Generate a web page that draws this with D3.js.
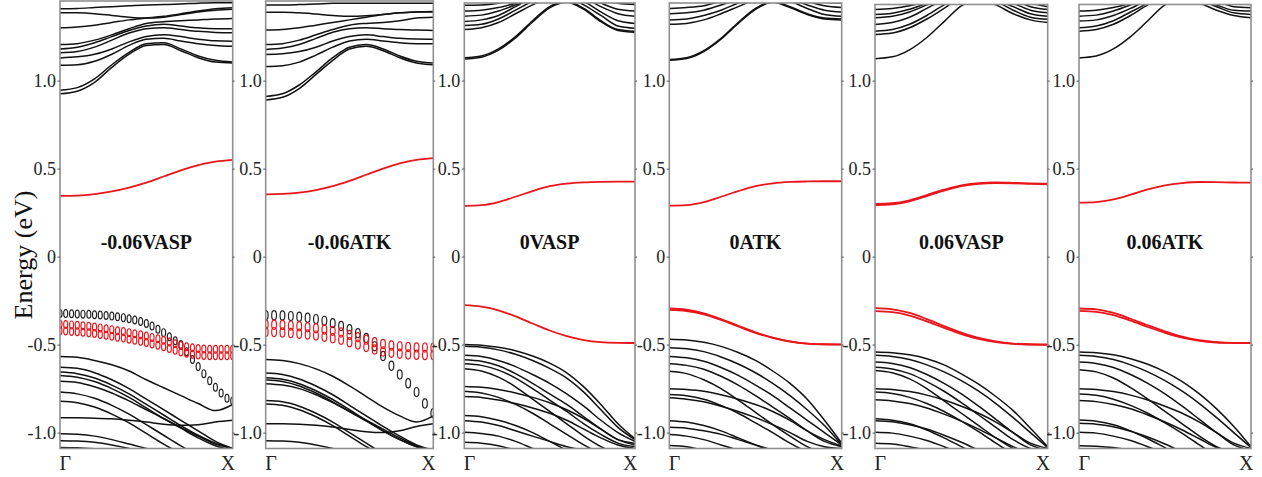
<!DOCTYPE html>
<html>
<head>
<meta charset="utf-8">
<script src="https://cdn.jsdelivr.net/npm/d3@7"></script>
<style>
body { margin: 0; background: #fff; }
svg { display: block; font-family: "Liberation Serif", "Times New Roman", serif; }
</style>
</head>
<body>
<svg id="chart" width="1262" height="477"></svg>
<script>
"use strict";
// ---- data ----
const kPath = [0, 0.1, 0.2, 0.3, 0.4, 0.5, 0.6, 0.7, 0.8, 0.9, 1.0];
const yTickValues = [-1, -0.5, 0, 0.5, 1];
const yTickLabels = ["-1.0", "-0.5", "0", "0.5", "1.0"];
const kLabels = ["\u0393", "X"];
const panelTitles = ["-0.06VASP", "-0.06ATK", "0VASP", "0ATK", "0.06VASP", "0.06ATK"];
const yTitle = "Energy (eV)";

// -0.06 VASP
const vaspM06Cond = [
    [0.945, 0.96, 1.01, 1.09, 1.16, 1.21, 1.215, 1.18, 1.14, 1.115, 1.105],
    [0.925, 0.94, 0.99, 1.075, 1.15, 1.20, 1.205, 1.17, 1.13, 1.105, 1.10],
    [1.087, 1.09, 1.11, 1.15, 1.20, 1.235, 1.24, 1.225, 1.21, 1.20, 1.195],
    [1.129, 1.135, 1.15, 1.18, 1.22, 1.25, 1.26, 1.25, 1.235, 1.226, 1.224],
    [1.158, 1.165, 1.19, 1.23, 1.27, 1.295, 1.30, 1.29, 1.28, 1.274, 1.272],
    [1.18, 1.19, 1.215, 1.25, 1.285, 1.31, 1.32, 1.31, 1.30, 1.295, 1.295],
    [1.205, 1.21, 1.23, 1.26, 1.295, 1.325, 1.335, 1.34, 1.345, 1.35, 1.353],
    [1.30, 1.305, 1.315, 1.33, 1.345, 1.355, 1.365, 1.38, 1.395, 1.408, 1.414],
    [1.386, 1.385, 1.38, 1.37, 1.36, 1.355, 1.36, 1.375, 1.39, 1.40, 1.405],
    [1.408, 1.41, 1.415, 1.42, 1.425, 1.43, 1.432, 1.435, 1.44, 1.443, 1.443]
];
const vaspM06Val = [
    [-0.567, -0.572, -0.59, -0.615, -0.65, -0.70, -0.745, -0.79, -0.835, -0.875, -0.84],
    [-0.916, -0.916, -0.918, -0.922, -0.93, -0.94, -0.952, -0.958, -0.955, -0.94, -0.93],
    [-0.628, -0.635, -0.66, -0.70, -0.75, -0.81, -0.87, -0.93, -0.99, -1.05, -1.09],
    [-0.656, -0.665, -0.69, -0.73, -0.78, -0.84, -0.90, -0.96, -1.015, -1.06, -1.09],
    [-0.675, -0.685, -0.71, -0.75, -0.80, -0.86, -0.92, -0.975, -1.03, -1.075, -1.10],
    [-0.708, -0.715, -0.74, -0.775, -0.82, -0.87, -0.92, -0.97, -1.02, -1.065, -1.09],
    [-0.77, -0.78, -0.805, -0.845, -0.895, -0.955, -1.015, -1.075, -1.13, -1.18, -1.2],
    [-0.822, -0.83, -0.855, -0.895, -0.945, -1.005, -1.065, -1.12, -1.17, -1.2, -1.22],
    [-1.007, -1.01, -1.02, -1.04, -1.065, -1.09, -1.12, -1.15, -1.18, -1.2, -1.22],
    [-1.046, -1.048, -1.055, -1.07, -1.09, -1.115, -1.14, -1.17, -1.2, -1.22, -1.24],
    [-1.084, -1.086, -1.092, -1.1, -1.115, -1.135, -1.16, -1.19, -1.22, -1.24, -1.25]
];
const vaspM06Gap = [
    [0.345, 0.347, 0.355, 0.37, 0.392, 0.42, 0.455, 0.49, 0.52, 0.54, 0.55]
];
const vaspM06MarkK = [0, 0.033, 0.067, 0.1, 0.133, 0.167, 0.2, 0.233, 0.267, 0.3, 0.333, 0.367, 0.4, 0.433, 0.467,
    0.5, 0.533, 0.567, 0.6, 0.633, 0.667, 0.7, 0.733, 0.767, 0.8, 0.833, 0.867, 0.9, 0.933, 0.967, 1.0];
const vaspM06MarkBlack = [-0.324, -0.324, -0.325, -0.326, -0.327, -0.328, -0.33, -0.332, -0.335, -0.338, -0.342,
    -0.347, -0.353, -0.36, -0.369, -0.38, -0.395, -0.413, -0.432, -0.455, -0.478, -0.50, -0.54, -0.585, -0.625,
    -0.665, -0.705, -0.742, -0.775, -0.805, -0.82];
const vaspM06MarkRedA = [-0.385, -0.386, -0.388, -0.39, -0.393, -0.396, -0.40, -0.405, -0.41, -0.415, -0.421,
    -0.426, -0.432, -0.438, -0.444, -0.451, -0.459, -0.467, -0.475, -0.485, -0.495, -0.505, -0.512, -0.518, -0.522,
    -0.525, -0.526, -0.527, -0.527, -0.527, -0.527];
const vaspM06MarkRedB = [-0.422, -0.423, -0.425, -0.427, -0.43, -0.433, -0.437, -0.442, -0.447, -0.452, -0.458,
    -0.463, -0.469, -0.475, -0.481, -0.488, -0.496, -0.504, -0.512, -0.522, -0.532, -0.542, -0.549, -0.555, -0.559,
    -0.562, -0.563, -0.564, -0.564, -0.564, -0.564];

// -0.06 ATK
const atkM06Cond = [
    [0.91, 0.925, 0.975, 1.05, 1.13, 1.19, 1.205, 1.18, 1.14, 1.11, 1.10],
    [0.89, 0.905, 0.955, 1.035, 1.115, 1.18, 1.195, 1.17, 1.13, 1.10, 1.09],
    [1.08, 1.085, 1.105, 1.145, 1.19, 1.225, 1.235, 1.225, 1.215, 1.21, 1.21],
    [1.148, 1.152, 1.165, 1.19, 1.225, 1.25, 1.26, 1.25, 1.24, 1.236, 1.235],
    [1.177, 1.185, 1.205, 1.24, 1.275, 1.295, 1.30, 1.295, 1.29, 1.287, 1.285],
    [1.205, 1.21, 1.23, 1.26, 1.29, 1.315, 1.325, 1.33, 1.34, 1.355, 1.36],
    [1.287, 1.29, 1.30, 1.315, 1.33, 1.345, 1.36, 1.375, 1.385, 1.39, 1.39],
    [1.389, 1.388, 1.385, 1.378, 1.37, 1.365, 1.368, 1.375, 1.385, 1.39, 1.392],
    [1.43, 1.43, 1.432, 1.435, 1.44, 1.44, 1.44, 1.44, 1.44, 1.44, 1.44]
];
const atkM06Val = [
    [-0.584, -0.59, -0.608, -0.638, -0.68, -0.735, -0.795, -0.855, -0.905, -0.94, -0.905],
    [-0.95, -0.95, -0.952, -0.958, -0.968, -0.982, -0.995, -1.0, -0.99, -0.965, -0.95],
    [-0.662, -0.67, -0.695, -0.735, -0.785, -0.845, -0.905, -0.965, -1.02, -1.07, -1.1],
    [-0.688, -0.697, -0.722, -0.762, -0.812, -0.87, -0.93, -0.99, -1.04, -1.08, -1.1],
    [-0.70, -0.71, -0.735, -0.775, -0.825, -0.88, -0.935, -0.99, -1.04, -1.08, -1.1],
    [-0.722, -0.73, -0.75, -0.785, -0.83, -0.88, -0.93, -0.98, -1.03, -1.075, -1.1],
    [-0.818, -0.825, -0.85, -0.89, -0.94, -1.0, -1.06, -1.12, -1.17, -1.2, -1.22],
    [-0.837, -0.845, -0.87, -0.91, -0.96, -1.02, -1.08, -1.13, -1.18, -1.2, -1.22],
    [-1.046, -1.048, -1.055, -1.07, -1.09, -1.115, -1.14, -1.17, -1.2, -1.22, -1.24]
];
const atkM06Gap = [
    [0.354, 0.356, 0.363, 0.378, 0.40, 0.43, 0.465, 0.50, 0.53, 0.55, 0.56]
];
const atkM06MarkK = [0, 0.05, 0.1, 0.15, 0.2, 0.25, 0.3, 0.35, 0.4, 0.45, 0.5, 0.55, 0.6, 0.65, 0.7, 0.75,
    0.8, 0.85, 0.9, 0.95, 1.0];
const atkM06MarkBlack = [-0.333, -0.333, -0.335, -0.338, -0.342, -0.347, -0.355, -0.365, -0.378, -0.394, -0.413,
    -0.435, -0.462, -0.51, -0.565, -0.62, -0.67, -0.72, -0.77, -0.835, -0.89];
const atkM06MarkRedA = [-0.386, -0.387, -0.389, -0.392, -0.396, -0.401, -0.407, -0.414, -0.422, -0.431, -0.445,
    -0.458, -0.472, -0.486, -0.497, -0.505, -0.51, -0.514, -0.516, -0.517, -0.517];
const atkM06MarkRedB = [-0.428, -0.429, -0.431, -0.434, -0.438, -0.443, -0.449, -0.456, -0.464, -0.473, -0.487,
    -0.50, -0.514, -0.528, -0.539, -0.547, -0.552, -0.556, -0.558, -0.559, -0.559];

// 0 VASP
const vasp0Cond = [
    [1.13, 1.14, 1.18, 1.25, 1.34, 1.42, 1.45, 1.41, 1.34, 1.29, 1.28],
    [1.123, 1.133, 1.173, 1.243, 1.333, 1.413, 1.445, 1.405, 1.335, 1.285, 1.275],
    [1.29, 1.30, 1.33, 1.38, 1.43, 1.47, 1.47, 1.43, 1.37, 1.31, 1.297],
    [1.313, 1.32, 1.35, 1.40, 1.45, 1.48, 1.48, 1.45, 1.39, 1.34, 1.325],
    [1.336, 1.345, 1.37, 1.42, 1.47, 1.5, 1.5, 1.47, 1.42, 1.38, 1.366],
    [1.366, 1.372, 1.395, 1.43, 1.47, 1.5, 1.5, 1.48, 1.44, 1.405, 1.395],
    [1.395, 1.40, 1.415, 1.44, 1.47, 1.5, 1.5, 1.49, 1.46, 1.44, 1.433],
    [1.428, 1.43, 1.44, 1.46, 1.48, 1.5, 1.5, 1.5, 1.48, 1.46, 1.455]
];
const vasp0Val = [
    [-0.499, -0.503, -0.515, -0.535, -0.565, -0.605, -0.66, -0.74, -0.84, -0.95, -1.035],
    [-0.51, -0.515, -0.53, -0.555, -0.59, -0.635, -0.69, -0.77, -0.87, -0.97, -1.04],
    [-0.561, -0.568, -0.59, -0.625, -0.67, -0.72, -0.78, -0.85, -0.93, -1.0, -1.05],
    [-0.586, -0.595, -0.62, -0.665, -0.72, -0.78, -0.84, -0.91, -0.98, -1.04, -1.06],
    [-0.609, -0.618, -0.645, -0.69, -0.75, -0.815, -0.88, -0.95, -1.01, -1.06, -1.08],
    [-0.637, -0.65, -0.685, -0.74, -0.81, -0.88, -0.95, -1.02, -1.08, -1.12, -1.14],
    [-0.738, -0.742, -0.755, -0.775, -0.80, -0.83, -0.87, -0.92, -0.98, -1.04, -1.07],
    [-0.765, -0.775, -0.80, -0.84, -0.89, -0.95, -1.01, -1.07, -1.12, -1.16, -1.18],
    [-0.795, -0.80, -0.815, -0.835, -0.86, -0.89, -0.93, -0.98, -1.03, -1.07, -1.09],
    [-0.903, -0.91, -0.93, -0.96, -1.0, -1.05, -1.1, -1.14, -1.17, -1.2, -1.22],
    [-0.932, -0.94, -0.96, -0.99, -1.02, -1.05, -1.08, -1.1, -1.12, -1.14, -1.15],
    [-0.998, -1.005, -1.02, -1.05, -1.09, -1.13, -1.17, -1.2, -1.22, -1.24, -1.25],
    [-1.055, -1.06, -1.075, -1.1, -1.13, -1.16, -1.19, -1.21, -1.23, -1.24, -1.25]
];
const vasp0Gap = [
    [0.288, 0.292, 0.31, 0.34, 0.372, 0.40, 0.415, 0.422, 0.425, 0.426, 0.426],
    [-0.276, -0.284, -0.305, -0.34, -0.38, -0.42, -0.452, -0.474, -0.486, -0.49, -0.491]
];

// 0 ATK
const atk0Cond = [
    [1.12, 1.13, 1.17, 1.24, 1.33, 1.41, 1.45, 1.42, 1.38, 1.355, 1.35],
    [1.115, 1.125, 1.165, 1.235, 1.325, 1.405, 1.445, 1.415, 1.375, 1.35, 1.345],
    [1.32, 1.325, 1.345, 1.38, 1.42, 1.46, 1.47, 1.45, 1.41, 1.375, 1.365],
    [1.345, 1.35, 1.37, 1.40, 1.44, 1.47, 1.48, 1.46, 1.43, 1.40, 1.39],
    [1.38, 1.385, 1.40, 1.43, 1.46, 1.49, 1.5, 1.48, 1.45, 1.425, 1.415],
    [1.41, 1.415, 1.425, 1.45, 1.47, 1.5, 1.5, 1.49, 1.47, 1.445, 1.44]
];
const atk0Val = [
    [-0.47, -0.474, -0.487, -0.51, -0.545, -0.59, -0.65, -0.72, -0.81, -0.93, -1.06],
    [-0.518, -0.524, -0.54, -0.57, -0.61, -0.66, -0.72, -0.79, -0.87, -0.96, -1.07],
    [-0.567, -0.575, -0.595, -0.63, -0.675, -0.73, -0.79, -0.86, -0.93, -1.0, -1.07],
    [-0.609, -0.618, -0.64, -0.68, -0.73, -0.79, -0.855, -0.92, -0.99, -1.05, -1.08],
    [-0.652, -0.665, -0.70, -0.75, -0.815, -0.885, -0.955, -1.02, -1.08, -1.12, -1.14],
    [-0.751, -0.755, -0.765, -0.785, -0.81, -0.84, -0.88, -0.93, -0.99, -1.04, -1.075],
    [-0.783, -0.79, -0.81, -0.845, -0.89, -0.945, -1.0, -1.06, -1.11, -1.15, -1.17],
    [-0.802, -0.81, -0.825, -0.85, -0.88, -0.915, -0.955, -1.0, -1.05, -1.08, -1.09],
    [-0.932, -0.94, -0.96, -0.99, -1.03, -1.07, -1.11, -1.15, -1.18, -1.2, -1.22],
    [-0.97, -0.975, -0.99, -1.01, -1.04, -1.07, -1.1, -1.13, -1.16, -1.18, -1.2],
    [-1.011, -1.02, -1.04, -1.07, -1.1, -1.13, -1.16, -1.19, -1.21, -1.23, -1.24],
    [-1.074, -1.08, -1.1, -1.12, -1.14, -1.16, -1.18, -1.2, -1.22, -1.23, -1.24]
];
const atk0Gap = [
    [0.29, 0.293, 0.31, 0.34, 0.372, 0.40, 0.416, 0.424, 0.427, 0.428, 0.428],
    [-0.295, -0.302, -0.322, -0.355, -0.393, -0.43, -0.46, -0.482, -0.494, -0.498, -0.499],
    [-0.303, -0.309, -0.328, -0.36, -0.397, -0.433, -0.462, -0.483, -0.495, -0.499, -0.5]
];

// +0.06 VASP
const vaspP06Cond = [
    [1.124, 1.135, 1.175, 1.245, 1.335, 1.425, 1.46, 1.43, 1.38, 1.345, 1.33],
    [1.262, 1.27, 1.30, 1.35, 1.41, 1.47, 1.48, 1.45, 1.40, 1.36, 1.348],
    [1.281, 1.29, 1.32, 1.37, 1.43, 1.48, 1.49, 1.46, 1.42, 1.38, 1.366],
    [1.319, 1.33, 1.36, 1.41, 1.46, 1.5, 1.5, 1.48, 1.44, 1.40, 1.385],
    [1.357, 1.365, 1.39, 1.43, 1.47, 1.5, 1.5, 1.49, 1.46, 1.42, 1.404],
    [1.376, 1.383, 1.405, 1.44, 1.48, 1.5, 1.5, 1.5, 1.47, 1.44, 1.42],
    [1.404, 1.41, 1.425, 1.45, 1.48, 1.5, 1.5, 1.5, 1.48, 1.455, 1.44]
];
const vaspP06Val = [
    [-0.542, -0.546, -0.558, -0.58, -0.615, -0.666, -0.725, -0.795, -0.875, -0.975, -1.08],
    [-0.561, -0.567, -0.585, -0.615, -0.655, -0.705, -0.765, -0.835, -0.915, -1.0, -1.085],
    [-0.599, -0.607, -0.63, -0.67, -0.72, -0.78, -0.85, -0.925, -1.0, -1.07, -1.1],
    [-0.628, -0.638, -0.665, -0.71, -0.765, -0.83, -0.9, -0.97, -1.04, -1.09, -1.11],
    [-0.647, -0.66, -0.695, -0.75, -0.82, -0.89, -0.96, -1.03, -1.09, -1.13, -1.15],
    [-0.751, -0.755, -0.767, -0.787, -0.815, -0.85, -0.89, -0.94, -1.0, -1.06, -1.09],
    [-0.77, -0.778, -0.80, -0.835, -0.88, -0.935, -0.995, -1.06, -1.12, -1.16, -1.18],
    [-0.814, -0.82, -0.835, -0.86, -0.895, -0.935, -0.98, -1.03, -1.08, -1.12, -1.14],
    [-0.922, -0.93, -0.95, -0.985, -1.03, -1.08, -1.13, -1.17, -1.2, -1.22, -1.24],
    [-0.932, -0.938, -0.955, -0.98, -1.015, -1.055, -1.1, -1.14, -1.18, -1.21, -1.23],
    [-0.998, -1.003, -1.02, -1.045, -1.08, -1.12, -1.16, -1.2, -1.22, -1.24, -1.25],
    [-1.061, -1.065, -1.08, -1.1, -1.12, -1.15, -1.18, -1.2, -1.22, -1.24, -1.25]
];
const vaspP06Gap = [
    [0.299, 0.303, 0.32, 0.35, 0.38, 0.405, 0.418, 0.421, 0.419, 0.416, 0.414],
    [0.293, 0.297, 0.314, 0.344, 0.375, 0.40, 0.413, 0.417, 0.416, 0.413, 0.411],
    [-0.293, -0.30, -0.32, -0.355, -0.395, -0.432, -0.462, -0.482, -0.494, -0.498, -0.499],
    [-0.31, -0.316, -0.335, -0.368, -0.405, -0.44, -0.468, -0.486, -0.496, -0.5, -0.502]
];

// +0.06 ATK
const atkP06Cond = [
    [1.129, 1.14, 1.18, 1.25, 1.34, 1.43, 1.46, 1.44, 1.40, 1.37, 1.357],
    [1.281, 1.29, 1.32, 1.37, 1.43, 1.48, 1.49, 1.46, 1.42, 1.385, 1.376],
    [1.30, 1.31, 1.34, 1.39, 1.44, 1.49, 1.5, 1.47, 1.43, 1.40, 1.395],
    [1.338, 1.345, 1.37, 1.41, 1.46, 1.5, 1.5, 1.48, 1.45, 1.42, 1.414],
    [1.366, 1.372, 1.395, 1.43, 1.47, 1.5, 1.5, 1.49, 1.46, 1.44, 1.432],
    [1.395, 1.40, 1.415, 1.44, 1.47, 1.5, 1.5, 1.5, 1.48, 1.46, 1.45]
];
const atkP06Val = [
    [-0.542, -0.546, -0.558, -0.58, -0.612, -0.655, -0.71, -0.78, -0.865, -0.965, -1.08],
    [-0.561, -0.567, -0.585, -0.615, -0.655, -0.705, -0.765, -0.835, -0.915, -1.0, -1.085],
    [-0.599, -0.607, -0.63, -0.67, -0.72, -0.78, -0.85, -0.925, -1.0, -1.07, -1.1],
    [-0.643, -0.655, -0.69, -0.745, -0.81, -0.88, -0.95, -1.02, -1.08, -1.12, -1.14],
    [-0.751, -0.755, -0.767, -0.787, -0.815, -0.85, -0.89, -0.94, -1.0, -1.06, -1.09],
    [-0.78, -0.788, -0.81, -0.845, -0.89, -0.945, -1.005, -1.07, -1.13, -1.17, -1.2],
    [-0.818, -0.824, -0.84, -0.865, -0.9, -0.94, -0.985, -1.035, -1.085, -1.12, -1.14],
    [-0.928, -0.935, -0.955, -0.99, -1.035, -1.085, -1.135, -1.18, -1.2, -1.22, -1.24],
    [-0.947, -0.952, -0.967, -0.992, -1.025, -1.065, -1.11, -1.15, -1.19, -1.22, -1.24],
    [-0.998, -1.003, -1.02, -1.045, -1.08, -1.12, -1.16, -1.2, -1.22, -1.24, -1.25],
    [-1.074, -1.077, -1.085, -1.1, -1.12, -1.14, -1.17, -1.2, -1.22, -1.24, -1.25]
];
const atkP06Gap = [
    [0.307, 0.31, 0.325, 0.352, 0.382, 0.405, 0.418, 0.424, 0.423, 0.421, 0.42],
    [-0.295, -0.30, -0.32, -0.353, -0.39, -0.425, -0.455, -0.475, -0.486, -0.49, -0.491],
    [-0.308, -0.314, -0.333, -0.364, -0.40, -0.433, -0.461, -0.479, -0.488, -0.491, -0.492]
];

// ---- layout (pixels) ----
const frames = [
    { left: 60, right: 232.7, top: 1 },
    { left: 265.7, right: 433.3, top: 1 },
    { left: 464.3, right: 635, top: 3 },
    { left: 669.3, right: 841.7, top: 3 },
    { left: 875, right: 1047.7, top: 4.5 },
    { left: 1079, right: 1251, top: 4.5 }
];
const frameBottom = 448.5;
const RED = "#e8151b";

const panels = [
    { cond: vaspM06Cond, val: vaspM06Val, gap: vaspM06Gap,
      marks: { k: vaspM06MarkK, black: vaspM06MarkBlack, redA: vaspM06MarkRedA, redB: vaspM06MarkRedB, rx: 2, ry: 3.9 } },
    { cond: atkM06Cond, val: atkM06Val, gap: atkM06Gap,
      marks: { k: atkM06MarkK, black: atkM06MarkBlack, redA: atkM06MarkRedA, redB: atkM06MarkRedB, rx: 2.4, ry: 4.6 } },
    { cond: vasp0Cond, val: vasp0Val, gap: vasp0Gap },
    { cond: atk0Cond, val: atk0Val, gap: atk0Gap },
    { cond: vaspP06Cond, val: vaspP06Val, gap: vaspP06Gap },
    { cond: atkP06Cond, val: atkP06Val, gap: atkP06Gap }
];

const svg = d3.select("#chart");
const yScale = d3.scaleLinear().domain([-1, 1]).range([432.6, 80.6]);

svg.append("text")
    .attr("transform", "translate(32,255) rotate(-90)")
    .attr("text-anchor", "middle")
    .attr("font-size", 26)
    .attr("fill", "#111")
    .text(yTitle);

panels.forEach((p, idx) => {
    const f = frames[idx];
    const x = d3.scaleLinear().domain([0, 1]).range([f.left, f.right]);
    const line = d3.line()
        .x((d, i) => x(kPath[i]))
        .y((d) => yScale(d))
        .curve(d3.curveMonotoneX);
    const clipId = `clip${idx}`;
    svg.append("clipPath").attr("id", clipId)
        .append("rect")
        .attr("x", f.left).attr("y", f.top)
        .attr("width", f.right - f.left).attr("height", frameBottom - f.top);

    const g = svg.append("g").attr("clip-path", `url(#${clipId})`);
    g.selectAll("path.band")
        .data(p.val.concat(p.cond))
        .join("path")
        .attr("class", "band")
        .attr("d", line)
        .attr("fill", "none")
        .attr("stroke", "#111")
        .attr("stroke-width", 1.5);
    g.selectAll("path.gap")
        .data(p.gap)
        .join("path")
        .attr("class", "gap")
        .attr("d", line)
        .attr("fill", "none")
        .attr("stroke", RED)
        .attr("stroke-width", 1.8);

    if (p.marks) {
        const m = p.marks;
        const sets = [
            { vals: m.black, color: "#222" },
            { vals: m.redA, color: RED },
            { vals: m.redB, color: RED }
        ];
        sets.forEach((s) => {
            g.append("g").selectAll("ellipse")
                .data(s.vals)
                .join("ellipse")
                .attr("cx", (d, i) => x(m.k[i]))
                .attr("cy", (d) => yScale(d))
                .attr("rx", m.rx)
                .attr("ry", m.ry)
                .attr("fill", "none")
                .attr("stroke", s.color)
                .attr("stroke-width", 1.2);
        });
    }

    // frame
    svg.append("rect")
        .attr("x", f.left).attr("y", f.top)
        .attr("width", f.right - f.left).attr("height", frameBottom - f.top)
        .attr("fill", "none")
        .attr("stroke", "#8f8f8f")
        .attr("stroke-width", 1.6);

    // left axis
    const axL = svg.append("g")
        .attr("transform", `translate(${f.left},0)`)
        .call(d3.axisLeft(yScale)
            .tickValues(yTickValues)
            .tickFormat((d, i) => yTickLabels[i])
            .tickSizeInner(2.5).tickSizeOuter(0).tickPadding(1.5));
    axL.select(".domain").remove();
    axL.selectAll("line").attr("stroke", "#555");
    axL.selectAll("text")
        .attr("font-family", "Liberation Serif, Times New Roman, serif")
        .attr("font-size", 18)
        .attr("fill", "#222");

    const axR = svg.append("g")
        .attr("transform", `translate(${f.right},0)`)
        .call(d3.axisRight(yScale).tickValues(yTickValues).tickFormat("").tickSizeInner(2).tickSizeOuter(0));
    axR.select(".domain").remove();
    axR.selectAll("line").attr("stroke", "#555");

    // k labels
    svg.append("text")
        .attr("x", f.left - 0.5).attr("y", 469.5)
        .attr("font-size", 20).attr("fill", "#222")
        .text(kLabels[0]);
    svg.append("text")
        .attr("x", f.right + 2.5).attr("y", 469.5)
        .attr("text-anchor", "end")
        .attr("font-size", 20).attr("fill", "#222")
        .text(kLabels[1]);

    // panel title
    svg.append("text")
        .attr("x", (f.left + f.right) / 2).attr("y", 249)
        .attr("text-anchor", "middle")
        .attr("font-size", 20).attr("font-weight", "bold").attr("fill", "#111")
        .text(panelTitles[idx]);
});
</script>
</body>
</html>
